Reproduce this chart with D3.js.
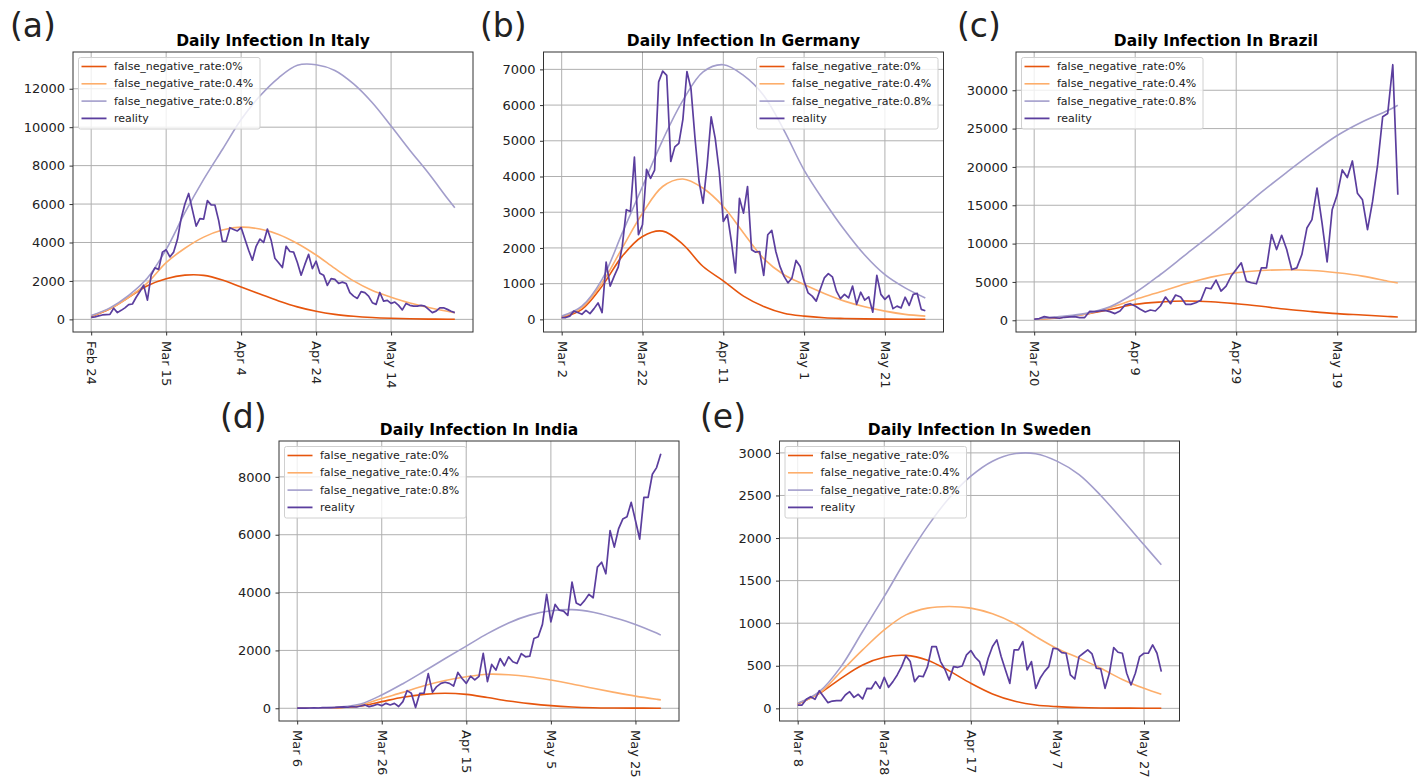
<!DOCTYPE html>
<html>
<head>
<meta charset="utf-8">
<script src="https://cdn.jsdelivr.net/npm/d3@7"></script>
<style>
  body { margin: 0; background: #fff; }
  svg { display: block; font-family: "DejaVu Sans", sans-serif; }
</style>
</head>
<body>
<svg id="chart" width="1421" height="778"></svg>
<script>
// ---- data (daily values, day 0 = first tick) ----
const seriesNames = ["false_negative_rate:0%", "false_negative_rate:0.4%", "false_negative_rate:0.8%", "reality"];

// Italy, Feb 24 .. May 31
const italyTicks = ["Feb 24", "Mar 15", "Apr 4", "Apr 24", "May 14"];
const italyYTicks = [0, 2000, 4000, 6000, 8000, 10000, 12000];
const italyReality = [100,130,180,230,250,260,580,350,470,600,
  770,800,1150,1450,1780,1000,2300,2680,2600,3500,
  3620,3250,3500,4150,5250,6000,6550,5700,4850,5240,
  5220,6180,5960,5950,5150,4060,4060,4770,4680,4600,
  4780,4180,3600,3080,3800,4180,4000,4700,4120,3180,
  2950,2700,3800,3530,3500,2960,2300,2860,3380,2640,
  3030,2400,2300,1770,2120,2080,1870,1940,1870,1390,
  1210,1090,1440,1390,1210,870,780,1400,950,990,
  830,900,730,490,830,730,690,690,730,690,
  520,350,430,600,600,520,420,350];
const italyDays = [0,5,10,15,20,25,30,35,40,45,50,55,60,65,70,75,80,85,90,95,97];
const italyFnr0 = [150,550,1150,1750,2110,2300,2290,2050,1680,1320,960,650,420,260,160,95,55,30,15,8,5];
const italyFnr04 = [170,550,1150,1900,2950,3700,4280,4650,4800,4700,4420,3950,3350,2650,2000,1500,1150,850,620,420,350];
const italyFnr08 = [200,600,1250,2150,3640,5550,7280,8840,10400,11620,12570,13220,13250,12950,12250,11270,10060,8800,7600,6300,5810];

// Germany, Mar 2 .. May 31
const germanyTicks = ["Mar 2", "Mar 22", "Apr 11", "May 1", "May 21"];
const germanyYTicks = [0, 1000, 2000, 3000, 4000, 5000, 6000, 7000];
const germanyReality = [50,50,90,230,190,140,250,160,300,460,
  190,1600,930,1210,1460,2050,3070,3020,4540,2370,
  2650,4200,3950,4180,6650,6950,6830,4420,4830,4930,
  5600,6940,6460,5070,3860,3250,4320,5670,5070,4140,
  2740,2930,2180,1300,3390,2975,3720,1950,1880,1900,
  1230,2370,2490,1900,1490,1210,1020,1160,1650,1490,
  1070,740,650,510,840,1160,1280,1190,790,580,
  700,600,930,420,760,540,630,200,1230,700,
  560,670,300,370,320,620,390,700,725,280,240];
const germanyDays = [0,5,10,15,20,25,30,35,40,45,50,55,60,65,70,75,80,85,90];
const germanyFnr0 = [50,280,930,1770,2320,2470,2100,1480,1080,650,360,170,90,45,25,12,6,3,2];
const germanyFnr04 = [70,330,1020,2000,2970,3720,3930,3670,3160,2420,1700,1250,975,725,510,350,230,140,90];
const germanyFnr08 = [90,370,1120,2420,3720,5020,6130,6930,7130,6830,6270,5300,4180,3300,2500,1800,1250,880,600];

// Brazil, Mar 20 .. May 31
const brazilTicks = ["Mar 20", "Apr 9", "Apr 29", "May 19"];
const brazilYTicks = [0, 5000, 10000, 15000, 20000, 25000, 30000];
const brazilReality = [130,220,480,350,350,260,390,430,480,350,
  350,1170,1130,1210,1300,1130,870,1210,1990,2160,
  1860,1430,1080,1340,1210,1860,3030,2160,3290,3030,
  2080,2080,2290,2600,4240,4110,5240,3810,4460,5760,
  6620,7490,5110,4890,4760,6840,6840,11170,9220,11080,
  9220,6620,6840,8570,12030,13120,17230,12680,7620,14420,
  16360,19610,18610,20780,16580,15710,11820,15500,20260,26540,
  26970,33330,16360];
const brazilDays = [0,5,10,15,20,25,30,35,40,45,50,55,60,65,70,72];
const brazilFnr0 = [130,350,780,1400,2080,2380,2510,2420,2160,1820,1430,1130,870,690,500,430];
const brazilFnr04 = [130,380,780,1650,2730,3720,4760,5630,6190,6490,6580,6490,6190,5760,5100,4850];
const brazilFnr08 = [130,480,870,1770,3590,5970,8570,11170,13900,16700,19300,21800,24100,25900,27350,28050];

// India, Mar 6 .. May 31
const indiaTicks = ["Mar 6", "Mar 26", "Apr 15", "May 5", "May 25"];
const indiaYTicks = [0, 2000, 4000, 6000, 8000];
const indiaReality = [2,5,3,10,14,9,22,20,24,30,
  40,50,35,60,45,80,115,57,92,140,
  90,170,115,170,60,230,610,520,25,520,
  520,1200,550,750,860,900,860,770,1240,1030,
  860,1110,980,1100,1900,920,1515,1320,1720,1470,
  1780,1610,1550,1890,1780,1800,2410,2470,2900,3940,
  2990,3590,3390,3360,3210,4360,3640,3560,3730,3940,
  3820,4880,5050,4650,6140,5570,6200,6540,6620,7120,
  6490,5850,7290,7290,8090,8320,8800];
const indiaDays = [0,5,10,15,20,25,30,35,40,45,50,55,60,65,70,75,80,85,86];
const indiaFnr0 = [0,5,20,80,230,380,480,520,480,370,250,160,90,45,20,10,5,2,2];
const indiaFnr04 = [0,5,30,110,340,550,780,960,1090,1175,1160,1090,975,840,690,550,420,310,290];
const indiaFnr08 = [0,5,40,150,460,850,1280,1720,2150,2580,2950,3220,3370,3410,3320,3130,2900,2600,2530];

// Sweden, Mar 8 .. May 31
const swedenTicks = ["Mar 8", "Mar 28", "Apr 17", "May 7", "May 27"];
const swedenYTicks = [0, 500, 1000, 1500, 2000, 2500, 3000];
const swedenReality = [39,39,106,137,106,208,137,67,86,90,
  90,157,196,129,165,110,235,231,314,235,
  365,247,314,392,490,616,549,314,380,373,
  490,726,726,549,459,333,490,482,498,628,
  679,600,549,392,588,726,804,608,451,294,
  686,686,784,451,549,235,353,431,490,706,
  698,655,647,392,345,608,647,686,639,471,
  463,235,412,714,659,647,412,275,412,608,
  647,647,745,647,431];
const swedenDays = [0,5,10,15,20,25,30,35,40,45,50,55,60,65,70,75,80,84];
const swedenFnr0 = [50,176,353,510,600,622,565,440,294,169,86,39,20,10,5,3,2,1];
const swedenFnr04 = [60,176,431,686,922,1098,1177,1196,1177,1110,1000,843,700,590,470,340,235,165];
const swedenFnr08 = [59,196,490,902,1314,1745,2137,2471,2726,2902,2989,2990,2900,2745,2500,2215,1920,1686];

// ---- layout ----
const colors = ["#e6550d", "#fdae6b", "#a29dcb", "#5b3e9e"];
const W = 400, H = 280;
const FONT = "DejaVu Sans";

const panels = [
  { label: "(a)", lx: 10, ly: 37, title: "Daily Infection In Italy", x: 73, y: 52, legendRight: false,
    ticks: italyTicks, yTicks: italyYTicks, reality: italyReality, days: italyDays, models: [italyFnr0, italyFnr04, italyFnr08] },
  { label: "(b)", lx: 480, ly: 37, title: "Daily Infection In Germany", x: 543.5, y: 52, legendRight: true,
    ticks: germanyTicks, yTicks: germanyYTicks, reality: germanyReality, days: germanyDays, models: [germanyFnr0, germanyFnr04, germanyFnr08] },
  { label: "(c)", lx: 957, ly: 37, title: "Daily Infection In Brazil", x: 1016, y: 52, legendRight: false,
    ticks: brazilTicks, yTicks: brazilYTicks, reality: brazilReality, days: brazilDays, models: [brazilFnr0, brazilFnr04, brazilFnr08] },
  { label: "(d)", lx: 220, ly: 428, title: "Daily Infection In India", x: 279, y: 441, legendRight: false,
    ticks: indiaTicks, yTicks: indiaYTicks, reality: indiaReality, days: indiaDays, models: [indiaFnr0, indiaFnr04, indiaFnr08] },
  { label: "(e)", lx: 700, ly: 428, title: "Daily Infection In Sweden", x: 779.5, y: 441, legendRight: false,
    ticks: swedenTicks, yTicks: swedenYTicks, reality: swedenReality, days: swedenDays, models: [swedenFnr0, swedenFnr04, swedenFnr08] }
];

const svg = d3.select("#chart");

panels.forEach(p => {
  const n = p.reality.length - 1;
  const all = p.reality.concat(...p.models);
  const [lo, hi] = d3.extent(all);
  const x = d3.scaleLinear().domain([-0.05 * n, 1.05 * n]).range([0, W]);
  const y = d3.scaleLinear().domain([lo - 0.05 * (hi - lo), hi + 0.05 * (hi - lo)]).range([H, 0]);
  const xTickVals = p.ticks.map((t, i) => i * 20);

  svg.append("text")
    .attr("x", p.lx).attr("y", p.ly)
    .style("font-size", "33px").attr("fill", "#222")
    .text(p.label);

  const g = svg.append("g").attr("transform", `translate(${p.x},${p.y})`);

  g.append("text")
    .attr("x", W / 2).attr("y", -6.5)
    .attr("text-anchor", "middle")
    .style("font-weight", "bold").style("font-size", "15.5px")
    .text(p.title);

  // grid
  g.append("g").selectAll("line").data(p.yTicks).join("line")
    .attr("x1", 0).attr("x2", W)
    .attr("y1", d => y(d)).attr("y2", d => y(d))
    .attr("stroke", "#b0b0b0").attr("stroke-width", 1);
  g.append("g").selectAll("line").data(xTickVals).join("line")
    .attr("y1", 0).attr("y2", H)
    .attr("x1", d => x(d)).attr("x2", d => x(d))
    .attr("stroke", "#b0b0b0").attr("stroke-width", 1);

  // axes
  const xAxis = g.append("g").attr("transform", `translate(0,${H})`)
    .call(d3.axisBottom(x).tickValues(xTickVals).tickFormat((d, i) => p.ticks[i]).tickSizeOuter(0).tickSize(3.5).tickPadding(3.5));
  xAxis.select(".domain").remove();
  xAxis.selectAll("line").attr("stroke", "#333");
  xAxis.selectAll("text")
    .style("font-family", FONT).style("font-size", "13px")
    .attr("fill", "#222")
    .attr("text-anchor", "start")
    .attr("dy", null).attr("y", null)
    .attr("dominant-baseline", "central")
    .attr("transform", "translate(0,9) rotate(90)");

  const yAxis = g.append("g")
    .call(d3.axisLeft(y).tickValues(p.yTicks).tickFormat(d3.format("d")).tickSizeOuter(0).tickSize(3.5).tickPadding(4.5));
  yAxis.select(".domain").remove();
  yAxis.selectAll("line").attr("stroke", "#333");
  yAxis.selectAll("text")
    .style("font-family", FONT).style("font-size", "13px")
    .attr("fill", "#222");

  // series
  const smooth = d3.line().x((d, i) => x(p.days[i])).y(d => y(d)).curve(d3.curveCatmullRom.alpha(0.5));
  p.models.forEach((vals, k) => {
    g.append("path").attr("d", smooth(vals))
      .attr("fill", "none").attr("stroke", colors[k]).attr("stroke-width", 1.6);
  });
  const raw = d3.line().x((d, i) => x(i)).y(d => y(d));
  g.append("path").attr("d", raw(p.reality))
    .attr("fill", "none").attr("stroke", colors[3]).attr("stroke-width", 1.7)
    .attr("stroke-linejoin", "round");

  // frame
  g.append("rect").attr("width", W).attr("height", H)
    .attr("fill", "none").attr("stroke", "#333").attr("stroke-width", 1);

  // legend
  const lw = 181.5, lh = 71.5;
  const lg = g.append("g").attr("transform", `translate(${p.legendRight ? W - 5.5 - lw : 5.5},5.5)`);
  lg.append("rect").attr("width", lw).attr("height", lh).attr("rx", 2)
    .attr("fill", "#fff").attr("fill-opacity", 0.8).attr("stroke", "#d0d0d0");
  seriesNames.forEach((name, k) => {
    const ry = 9 + k * 17.3;
    lg.append("line").attr("x1", 3).attr("x2", 28).attr("y1", ry).attr("y2", ry)
      .attr("stroke", colors[k]).attr("stroke-width", k === 3 ? 1.8 : 1.6);
    lg.append("text").attr("x", 35.5).attr("y", ry)
      .attr("dominant-baseline", "central")
      .style("font-size", "11px").attr("fill", "#222").text(name);
  });
});
</script>
</body>
</html>
